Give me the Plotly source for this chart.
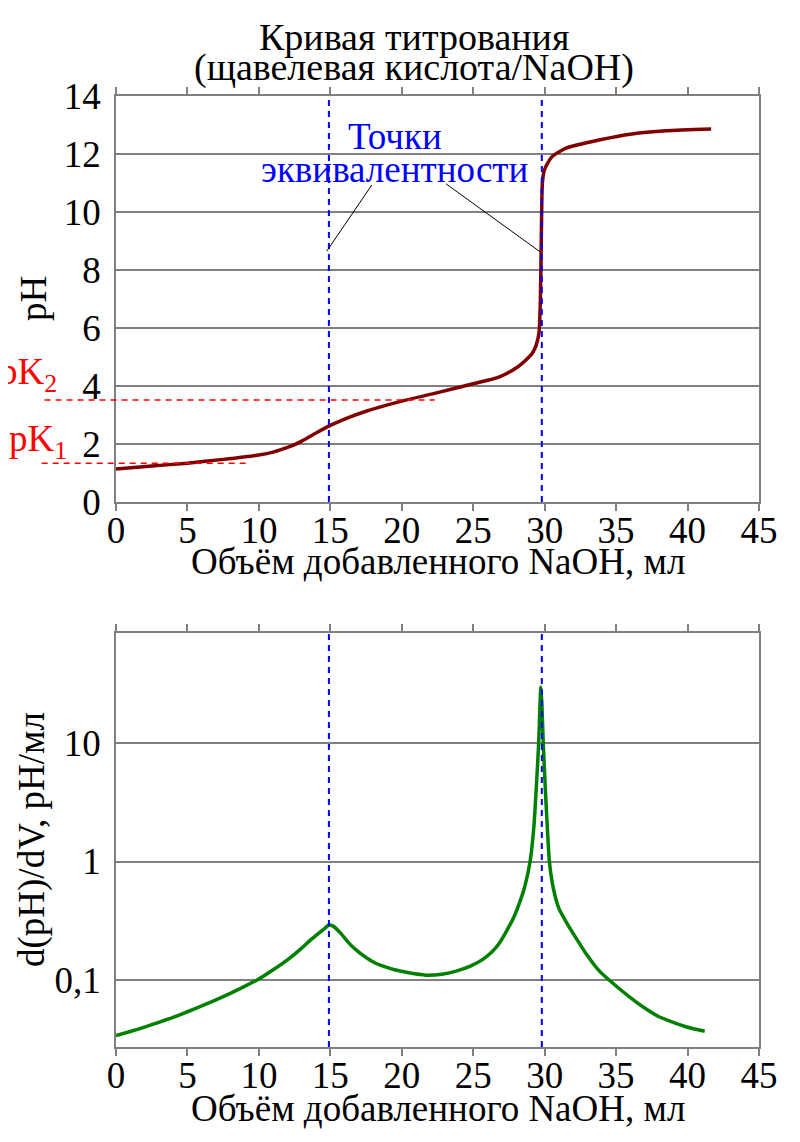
"""Titration curve of oxalic acid with NaOH and its first derivative."""

import plotly.graph_objects as go

# ---------------- data ----------------
# top: pH vs added NaOH volume
volume_ph = [0, 2.5, 5, 7.5, 10, 11, 12, 12.5, 13, 14, 15, 16, 17.5, 20, 22.5, 25,
             26.8, 28, 28.8, 29.15, 29.4, 29.6, 29.7, 29.77, 29.84, 29.98, 30.5,
             31.5, 33.8, 36.1, 38.5, 41.65]
ph = [1.14, 1.24, 1.34, 1.47, 1.62, 1.72, 1.88, 1.98, 2.1, 2.38, 2.64, 2.86, 3.13,
      3.48, 3.77, 4.08, 4.31, 4.62, 4.95, 5.14, 5.4, 5.83, 6.97, 9.28, 11.0,
      11.45, 11.9, 12.2, 12.48, 12.69, 12.8, 12.86]

# bottom: d(pH)/dV vs volume
volume_d = [0, 1, 2, 3, 4, 5, 6, 7, 8, 9, 10, 11, 12, 13, 13.6, 14.2, 14.6, 14.9,
            15.2, 15.7, 16.3, 16.84, 17.5, 18.1, 18.7, 19.5, 20.5, 21.7, 22.8, 23.8,
            24.8, 25.7, 26.3, 26.8, 27.3, 27.8, 28.3, 28.6, 28.98, 29.25, 29.45,
            29.58, 29.68, 29.73, 29.8, 29.9, 30.05, 30.2, 30.33, 30.6, 31.0, 31.5,
            32.2, 33.0, 33.8, 35, 36, 37, 38, 39, 40, 41.2]
dph_dv = [0.034, 0.0368, 0.0401, 0.044, 0.0485, 0.054, 0.0604, 0.0681, 0.0773,
          0.0885, 0.102, 0.122, 0.148, 0.186, 0.217, 0.249, 0.272, 0.291, 0.285,
          0.25, 0.205, 0.178, 0.155, 0.14, 0.131, 0.122, 0.115, 0.110, 0.112, 0.119,
          0.131, 0.15, 0.172, 0.202, 0.255, 0.33, 0.47, 0.61, 1.0, 2.0, 5.0, 10, 22,
          29.7, 22, 10, 4.0, 1.8, 1.0, 0.6, 0.4, 0.31, 0.226, 0.16, 0.12, 0.089,
          0.071, 0.058, 0.049, 0.044, 0.040, 0.037]

equivalence_points = [14.9, 29.8]
pk_values = [1.34, 3.52]
pk_labels = ["pK<sub>1</sub>", "pK<sub>2</sub>"]
pk_line_start = [-5.2, -5.0]
pk_line_end = [9.4, 22.3]

x_ticks = list(range(0, 50, 5))
d_tickvals = [0.1, 1, 10]
d_ticktext = ["0,1", "1", "10"]

# ---------------- layout constants ----------------
# the page body adds an 8px margin, so the figure is 8px smaller than the window
OFF = 8
W, H = 800 - OFF, 1142 - OFF


def px_x(px):
    return (px - OFF) / W


def px_y(py):
    return 1 - (py - OFF) / H


X_DOM = [px_x(116), px_x(759)]
Y1_DOM = [px_y(502), px_y(96)]
Y2_DOM = [px_y(1047), px_y(633)]
X_MAX = 45
Y1_MAX = 14

FONT = "Liberation Serif"
FS = 37
GRID = "#808080"


def x_paper(v):
    return X_DOM[0] + v / X_MAX * (X_DOM[1] - X_DOM[0])


fig = go.Figure()

fig.add_trace(go.Scatter(
    x=volume_ph, y=ph, mode="lines",
    line=dict(color="#800000", width=3.5, shape="spline", smoothing=0.6),
    xaxis="x", yaxis="y", showlegend=False, hoverinfo="skip"
))
fig.add_trace(go.Scatter(
    x=volume_d, y=dph_dv, mode="lines",
    line=dict(color="#008000", width=3.5, shape="spline", smoothing=0.5),
    xaxis="x2", yaxis="y2", showlegend=False, hoverinfo="skip"
))

shapes = []
# equivalence point lines in both panels
for ep in equivalence_points:
    for xr, yr in (("x", "y domain"), ("x2", "y2 domain")):
        shapes.append(dict(type="line", xref=xr, yref=yr, x0=ep, x1=ep, y0=0, y1=1,
                           line=dict(color="#0000ff", width=2, dash="6px,5px")))

# pK dashed lines (reach outside the plot on the left)
for pk, xs, xe in zip(pk_values, pk_line_start, pk_line_end):
    shapes.append(dict(type="line", xref="paper", yref="y domain",
                       x0=x_paper(xs), x1=x_paper(xe), y0=pk / Y1_MAX, y1=pk / Y1_MAX,
                       line=dict(color="#ff0000", width=1.5, dash="6px,5px")))

# leader lines from the label to the equivalence points
shapes.append(dict(type="line", xref="x", yref="y", x0=17.9, y0=10.93, x1=14.75, y1=8.65,
                   line=dict(color="black", width=1)))
shapes.append(dict(type="line", xref="x", yref="y", x0=23.1, y0=10.97, x1=29.7, y1=8.62,
                   line=dict(color="black", width=1)))


def text_note(text, x, y, size=FS, color="black", angle=0, xref="paper", yref="paper"):
    return dict(text=text, x=x, y=y, xref=xref, yref=yref, textangle=angle,
                xanchor="center", yanchor="middle",
                showarrow=False, font=dict(family=FONT, size=size, color=color))


annotations = [
    text_note("Кривая титрования", px_x(414), px_y(37), size=38),
    text_note("(щавелевая кислота/NaOH)", px_x(414), px_y(67), size=38),
    text_note("Точки", 19.5, 12.6, color="#0000ff", xref="x", yref="y"),
    text_note("эквивалентности", 19.5, 11.45, color="#0000ff", xref="x", yref="y"),
    text_note("pH", px_x(33), sum(Y1_DOM) / 2, angle=-90),
    text_note("d(pH)/dV, pH/мл", px_x(32), sum(Y2_DOM) / 2, angle=-90),
    text_note("Объём добавленного NaOH, мл", sum(X_DOM) / 2, px_y(562)),
    text_note("Объём добавленного NaOH, мл", sum(X_DOM) / 2, px_y(1108)),
    text_note(pk_labels[0], px_x(38), px_y(442), color="#ff0000"),
    text_note(pk_labels[1], px_x(28), px_y(374), color="#ff0000"),
]

axis_common = dict(
    showline=True, linecolor=GRID, linewidth=1.5, mirror=True, zeroline=False,
    automargin=False, tickfont=dict(family=FONT, size=FS, color="black"),
)
x_common = dict(axis_common, domain=X_DOM, range=[0, X_MAX], tickvals=x_ticks,
                ticks="outside", ticklen=7, tickcolor=GRID, tickwidth=1.5,
                mirror="allticks", showgrid=False, ticklabelstandoff=-12)

fig.update_layout(
    width=W, height=H,
    margin=dict(l=0, r=0, t=0, b=0),
    paper_bgcolor="white", plot_bgcolor="white",
    xaxis=dict(x_common, anchor="y"),
    yaxis=dict(axis_common, domain=Y1_DOM, range=[0, Y1_MAX], dtick=2, anchor="x",
               showgrid=True, gridcolor=GRID, gridwidth=1.5, ticks="",
               ticklabelstandoff=6),
    xaxis2=dict(x_common, anchor="y2"),
    yaxis2=dict(axis_common, domain=Y2_DOM, type="log", range=[-1.565, 1.928],
                tickvals=d_tickvals, ticktext=d_ticktext, anchor="x2",
                showgrid=True, gridcolor=GRID, gridwidth=1.5, ticks="",
                ticklabelstandoff=6),
    shapes=shapes,
    annotations=annotations,
    showlegend=False,
)

fig.write_html("out.html")
